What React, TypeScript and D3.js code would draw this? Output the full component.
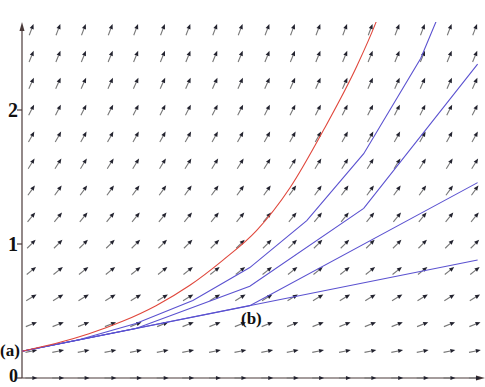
import React from "react";
import * as d3 from "d3";

// slope field grid (ODE y' = y)
const colX = [0.07, 0.27, 0.46, 0.66, 0.85, 1.05, 1.24, 1.44, 1.63, 1.83, 2.02, 2.21, 2.41, 2.6, 2.8, 2.99, 3.19, 3.38];
const rowY = [0, 0.2, 0.4, 0.6, 0.8, 1.0, 1.2, 1.4, 1.6, 1.8, 2.0, 2.2, 2.4, 2.6];

// solution curve (red)
const exactX = [0, 0.25, 0.5, 0.75, 1, 1.25, 1.5, 1.75, 2, 2.25, 2.5, 2.64, 2.75];
const exactY = [0.2, 0.257, 0.33, 0.423, 0.54, 0.69, 0.88, 1.1, 1.42, 1.85, 2.33, 2.65, 2.95];

// Euler approximations (blue)
const euler1X = [0, 3.4];
const euler1Y = [0.2, 0.88];
const euler2X = [0, 1.7, 3.4];
const euler2Y = [0.2, 0.54, 1.458];
const euler4X = [0, 0.85, 1.7, 2.55, 3.4];
const euler4Y = [0.2, 0.37, 0.6845, 1.266, 2.343];
const euler8X = [0, 0.425, 0.85, 1.275, 1.7, 2.125, 2.55, 2.975, 3.4];
const euler8Y = [0.2, 0.285, 0.406, 0.579, 0.824, 1.175, 1.674, 2.385, 3.4];

const yTicks = [0, 1, 2];

const W = 485;
const H = 387;

export default function App() {
  const x = d3.scaleLinear().domain([0, 3.4]).range([22, 477.6]);
  const y = d3.scaleLinear().domain([0, 1]).range([378, 244]);
  const kx = 134;
  const ky = 134;

  const line = d3
    .line<[number, number]>()
    .x((d) => x(d[0]))
    .y((d) => y(d[1]));
  const smooth = d3
    .line<[number, number]>()
    .x((d) => x(d[0]))
    .y((d) => y(d[1]))
    .curve(d3.curveMonotoneX);

  const zip = (a: number[], b: number[]) => a.map((v, i) => [v, b[i]] as [number, number]);

  const arrows: JSX.Element[] = [];
  const L = 12;
  rowY.forEach((yv, j) => {
    colX.forEach((xv, i) => {
      const slope = yv; // y' = y
      let dx = kx;
      let dy = -slope * ky;
      const n = Math.hypot(dx, dy);
      dx /= n;
      dy /= n;
      const cx = x(xv);
      const cy = y(yv);
      const tx = cx - (dx * L) / 2;
      const ty = cy - (dy * L) / 2;
      const hx = cx + (dx * L) / 2;
      const hy = cy + (dy * L) / 2;
      const hl = 5;
      const hw = 2.1;
      const bx = hx - dx * hl;
      const by = hy - dy * hl;
      const px = -dy;
      const py = dx;
      arrows.push(
        <g key={`${i}-${j}`}>
          <line x1={tx} y1={ty} x2={bx} y2={by} stroke="#777" strokeWidth={1.1} />
          <polygon
            points={`${hx},${hy} ${bx + px * hw},${by + py * hw} ${bx - px * hw},${by - py * hw}`}
            fill="#22222e"
          />
        </g>
      );
    });
  });

  const axisColor = "#4a3a3a";
  const serif = "'Liberation Serif', 'DejaVu Serif', serif";

  return (
    <svg
      width={W}
      height={H}
      style={{ position: "absolute", left: 0, top: 0, background: "#fff" }}
    >
      <defs>
        <clipPath id="plot">
          <rect x={20} y={22} width={466} height={358} />
        </clipPath>
      </defs>
      {/* axes */}
      <line x1={x(0)} y1={y(0)} x2={x(0)} y2={27} stroke={axisColor} strokeWidth={1.2} />
      <polygon points={`${x(0)},22 ${x(0) - 2.5},31 ${x(0) + 2.5},31`} fill={axisColor} />
      <line x1={x(0)} y1={y(0)} x2={480} y2={y(0)} stroke={axisColor} strokeWidth={1.2} />
      <polygon points={`485,${y(0)} 476,${y(0) - 2.5} 476,${y(0) + 2.5}`} fill={axisColor} />
      {yTicks.map((t) => (
        <g key={t}>
          <line x1={x(0) - 5} x2={x(0)} y1={y(t)} y2={y(t)} stroke={axisColor} strokeWidth={1.2} />
          <text
            x={x(0) - 4}
            y={t === 0 ? y(t) + 4 : y(t) + 7}
            textAnchor="end"
            fontFamily={serif}
            fontSize={t === 0 ? 18 : 20}
            fontWeight="bold"
            fill="#111"
          >
            {t}
          </text>
        </g>
      ))}
      {arrows}
      <g clipPath="url(#plot)" fill="none" strokeWidth={1.1}>
        <path d={line(zip(euler1X, euler1Y)) || ""} stroke="#5b52d0" />
        <path d={line(zip(euler2X, euler2Y)) || ""} stroke="#5b52d0" />
        <path d={line(zip(euler4X, euler4Y)) || ""} stroke="#5b52d0" />
        <path d={line(zip(euler8X, euler8Y)) || ""} stroke="#5b52d0" />
        <path d={smooth(zip(exactX, exactY)) || ""} stroke="#e0473c" />
      </g>
      <text x={0} y={356} fontFamily={serif} fontSize={17} fontWeight="bold" fill="#111">
        (a)
      </text>
      <text x={241} y={324} fontFamily={serif} fontSize={17} fontWeight="bold" fill="#111">
        (b)
      </text>
    </svg>
  );
}
